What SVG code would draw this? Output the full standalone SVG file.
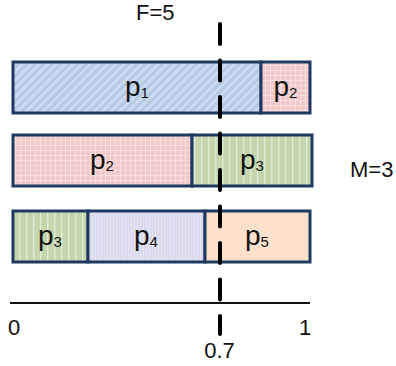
<svg xmlns="http://www.w3.org/2000/svg" width="396" height="366" viewBox="0 0 396 366">
  <style>
    .seg { stroke: #1e3a60; stroke-width: 3; }
    .lbl { font-family: "Liberation Sans", Arial, sans-serif; fill: #111; }
    .p { font-size: 28px; }
    .sub { font-size: 15px; }
    .big { font-size: 22px; }
    .axis { stroke: #111; stroke-width: 2; }
    .cut { stroke: #000; stroke-width: 4; stroke-linecap: round; stroke-dasharray: 20 16.5; fill: none; }
  </style>
  <defs>
    <pattern id="hatchBlue" width="6" height="6" patternUnits="userSpaceOnUse" patternTransform="rotate(45)">
      <rect width="6" height="6" fill="#b6cae5"/>
      <rect width="2.5" height="6" fill="#cfdcef"/>
    </pattern>
    <pattern id="gridPink" width="5" height="5" patternUnits="userSpaceOnUse">
      <rect width="5" height="5" fill="#f3c8c8"/>
      <path d="M0 0.5H5M0.5 0V5" stroke="#f8dede" stroke-width="1"/>
    </pattern>
    <pattern id="stripeGreen" width="7" height="7" patternUnits="userSpaceOnUse">
      <rect width="7" height="7" fill="#c5d6ae"/>
      <rect x="5" width="1.3" height="7" fill="#e2ebd6"/>
    </pattern>
    <pattern id="stripeLilac" width="3" height="3" patternUnits="userSpaceOnUse">
      <rect width="3" height="3" fill="#dbd9ee"/>
      <rect x="2" width="1" height="3" fill="#e6e5f4"/>
    </pattern>
  </defs>

  <!-- row 1 -->
  <g id="row1-p1">
    <rect class="seg" x="13" y="62" width="248" height="51" fill="url(#hatchBlue)"/>
    <text class="lbl p" x="137" y="96" text-anchor="middle">p<tspan class="sub" dy="2">1</tspan></text>
  </g>
  <g id="row1-p2">
    <rect class="seg" x="261" y="62" width="49" height="51" fill="url(#gridPink)"/>
    <text class="lbl p" x="285.5" y="96" text-anchor="middle">p<tspan class="sub" dy="2">2</tspan></text>
  </g>

  <!-- row 2 -->
  <g id="row2-p2">
    <rect class="seg" x="13" y="135" width="179" height="51" fill="url(#gridPink)"/>
    <text class="lbl p" x="102" y="169" text-anchor="middle">p<tspan class="sub" dy="2">2</tspan></text>
  </g>
  <g id="row2-p3">
    <rect class="seg" x="192" y="135" width="120" height="51" fill="url(#stripeGreen)"/>
    <text class="lbl p" x="252" y="169" text-anchor="middle">p<tspan class="sub" dy="2">3</tspan></text>
  </g>

  <!-- row 3 -->
  <g id="row3-p3">
    <rect class="seg" x="13" y="211" width="75" height="51" fill="url(#stripeGreen)"/>
    <text class="lbl p" x="50" y="245" text-anchor="middle">p<tspan class="sub" dy="2">3</tspan></text>
  </g>
  <g id="row3-p4">
    <rect class="seg" x="88" y="211" width="117" height="51" fill="url(#stripeLilac)"/>
    <text class="lbl p" x="146" y="245" text-anchor="middle">p<tspan class="sub" dy="2">4</tspan></text>
  </g>
  <g id="row3-p5">
    <rect class="seg" x="205" y="211" width="105" height="51" fill="#fde1cd"/>
    <text class="lbl p" x="257" y="245" text-anchor="middle">p<tspan class="sub" dy="2">5</tspan></text>
  </g>

  <!-- labels -->
  <g id="label-F">
    <text class="lbl big" x="136" y="20">F=5</text>
  </g>
  <g id="label-M">
    <text class="lbl big" x="350" y="177">M=3</text>
  </g>

  <!-- axis and threshold -->
  <g id="connectors">
    <line class="axis" x1="10" y1="303" x2="310" y2="303"/>
    <line class="cut" x1="220" y1="24" x2="220" y2="334"/>
  </g>
  <g id="axis-labels">
    <text class="lbl big" x="8" y="335">0</text>
    <text class="lbl big" x="299" y="335">1</text>
    <text class="lbl big" x="219.5" y="358" text-anchor="middle">0.7</text>
  </g>
</svg>
